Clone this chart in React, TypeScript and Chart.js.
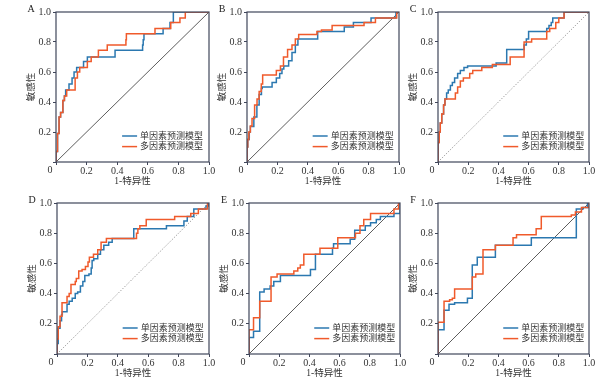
import React, { useEffect, useRef } from 'react';
import { Chart, registerables } from 'chart.js';

Chart.register(...registerables);

// ---------- data ----------
const seriesNames = ['单因素预测模型', '多因素预测模型'];
const xTitle = '1-特异性';
const yTitle = '敏感性';
const panelLetters = ['A', 'B', 'C', 'D', 'E', 'F'];
const chanceLine: [number, number][] = [[0, 0], [1, 1]];

// ROC step points: [1-specificity, sensitivity] after each rise
const rocASingle: [number, number][] = [[0,0],[0,0.07],[0.01,0.19],[0.02,0.30],[0.03,0.33],[0.045,0.41],[0.055,0.44],[0.063,0.48],[0.085,0.52],[0.105,0.56],[0.118,0.60],[0.135,0.63],[0.18,0.67],[0.205,0.70],[0.386,0.745],[0.566,0.78],[0.57,0.815],[0.575,0.855],[0.70,0.89],[0.745,0.93],[0.767,1.0],[1,1]];
const rocAMulti: [number, number][] = [[0,0],[0,0.07],[0.01,0.19],[0.02,0.30],[0.03,0.33],[0.045,0.41],[0.055,0.44],[0.07,0.48],[0.125,0.56],[0.14,0.60],[0.155,0.63],[0.205,0.67],[0.23,0.70],[0.277,0.745],[0.335,0.78],[0.457,0.815],[0.46,0.855],[0.647,0.89],[0.75,0.93],[0.81,0.96],[0.845,1.0],[1,1]];

const rocBSingle: [number, number][] = [[0,0],[0,0.1],[0.005,0.15],[0.015,0.2],[0.022,0.237],[0.045,0.30],[0.065,0.38],[0.08,0.45],[0.095,0.49],[0.10,0.50],[0.165,0.53],[0.193,0.56],[0.215,0.59],[0.23,0.62],[0.242,0.64],[0.274,0.675],[0.296,0.73],[0.318,0.78],[0.335,0.82],[0.465,0.87],[0.64,0.90],[0.70,0.93],[0.816,0.96],[0.98,1.0],[1,1]];
const rocBMulti: [number, number][] = [[0,0],[0,0.1],[0.005,0.15],[0.012,0.2],[0.022,0.24],[0.033,0.29],[0.05,0.38],[0.066,0.42],[0.08,0.47],[0.094,0.52],[0.103,0.58],[0.193,0.61],[0.22,0.64],[0.24,0.70],[0.267,0.75],[0.296,0.78],[0.318,0.82],[0.34,0.85],[0.46,0.87],[0.49,0.88],[0.56,0.91],[0.77,0.93],[0.845,0.96],[0.985,1.0],[1,1]];

const rocCSingle: [number, number][] = [[0,0],[0,0.13],[0.008,0.2],[0.015,0.26],[0.025,0.32],[0.037,0.38],[0.046,0.42],[0.057,0.46],[0.068,0.48],[0.082,0.51],[0.095,0.53],[0.11,0.56],[0.13,0.59],[0.148,0.61],[0.172,0.63],[0.196,0.64],[0.385,0.66],[0.455,0.75],[0.57,0.78],[0.585,0.82],[0.60,0.87],[0.72,0.89],[0.735,0.91],[0.75,0.93],[0.76,0.96],[0.835,1.0],[1,1]];
const rocCMulti: [number, number][] = [[0,0],[0,0.13],[0.008,0.2],[0.015,0.26],[0.025,0.32],[0.037,0.38],[0.046,0.42],[0.115,0.46],[0.13,0.50],[0.148,0.54],[0.168,0.56],[0.21,0.59],[0.23,0.61],[0.29,0.63],[0.36,0.65],[0.478,0.70],[0.57,0.80],[0.62,0.82],[0.72,0.87],[0.74,0.89],[0.78,0.93],[0.80,0.96],[0.835,1.0],[1,1]];

const rocDSingle: [number, number][] = [[0,0],[0,0.07],[0.008,0.17],[0.02,0.22],[0.03,0.26],[0.035,0.28],[0.066,0.33],[0.08,0.35],[0.10,0.37],[0.12,0.40],[0.136,0.41],[0.154,0.45],[0.17,0.48],[0.183,0.52],[0.21,0.53],[0.225,0.57],[0.231,0.62],[0.242,0.63],[0.268,0.66],[0.286,0.69],[0.308,0.72],[0.34,0.74],[0.363,0.765],[0.505,0.83],[0.72,0.85],[0.835,0.88],[0.857,0.91],[0.90,0.96],[0.98,0.98],[0.995,1.0],[1,1]];
const rocDMulti: [number, number][] = [[0,0],[0,0.1],[0.008,0.18],[0.02,0.25],[0.033,0.34],[0.066,0.38],[0.08,0.40],[0.092,0.46],[0.12,0.48],[0.127,0.50],[0.143,0.55],[0.165,0.56],[0.187,0.58],[0.204,0.61],[0.213,0.64],[0.24,0.66],[0.268,0.69],[0.29,0.74],[0.325,0.765],[0.523,0.80],[0.532,0.83],[0.545,0.85],[0.587,0.89],[0.774,0.91],[0.88,0.93],[0.93,0.96],[0.99,1.0],[1,1]];

const rocESingle: [number, number][] = [[0,0],[0,0.11],[0.03,0.15],[0.071,0.41],[0.10,0.43],[0.14,0.45],[0.164,0.48],[0.208,0.52],[0.407,0.56],[0.44,0.66],[0.553,0.70],[0.56,0.73],[0.67,0.76],[0.70,0.82],[0.77,0.85],[0.805,0.87],[0.843,0.89],[0.87,0.91],[0.96,0.93],[1,1.0]];
const rocEMulti: [number, number][] = [[0,0],[0,0.16],[0.03,0.24],[0.071,0.35],[0.146,0.51],[0.186,0.53],[0.297,0.55],[0.323,0.57],[0.34,0.59],[0.363,0.66],[0.47,0.70],[0.588,0.77],[0.705,0.80],[0.735,0.85],[0.76,0.89],[0.805,0.93],[0.96,0.96],[0.99,1.0],[1,1]];

const rocFSingle: [number, number][] = [[0,0],[0,0.16],[0.04,0.29],[0.073,0.33],[0.11,0.34],[0.195,0.37],[0.227,0.59],[0.26,0.64],[0.38,0.72],[0.618,0.77],[0.916,0.96],[0.96,0.97],[0.99,1.0],[1,1]];
const rocFMulti: [number, number][] = [[0,0],[0,0.21],[0.04,0.35],[0.077,0.36],[0.095,0.37],[0.11,0.43],[0.227,0.51],[0.25,0.53],[0.298,0.69],[0.38,0.72],[0.497,0.77],[0.52,0.79],[0.65,0.83],[0.684,0.91],[0.883,0.92],[0.91,0.94],[0.95,0.97],[1,1]];

// ---------- layout / style ----------
const BLUE = '#2b78b0';
const ORANGE = '#f05a2b';
const FRAME = '#40465a';
const TEXT = '#333333';
const FONT = "'Liberation Serif', 'Noto Sans CJK SC', serif";

const panels = [
  { letter: panelLetters[0], rect: [56, 12, 153, 150], single: rocASingle, multi: rocAMulti, dotted: false },
  { letter: panelLetters[1], rect: [247, 12, 152, 150], single: rocBSingle, multi: rocBMulti, dotted: false },
  { letter: panelLetters[2], rect: [438, 12, 151, 150], single: rocCSingle, multi: rocCMulti, dotted: true },
  { letter: panelLetters[3], rect: [57, 203, 152, 151], single: rocDSingle, multi: rocDMulti, dotted: true },
  { letter: panelLetters[4], rect: [249, 203, 151, 151], single: rocESingle, multi: rocEMulti, dotted: false },
  { letter: panelLetters[5], rect: [438, 203, 151, 151], single: rocFSingle, multi: rocFMulti, dotted: false },
];

const LEFT_SPACE = 45;
const TOP_SPACE = 12;
const RIGHT_SPACE = 10;
const BOTTOM_SPACE = 30;

const toXY = (arr: [number, number][]) => arr.map(([x, y]) => ({ x, y }));
const fmt = (v: any) => (Number(v) === 0 ? '' : Number(v).toFixed(1));

function Panel({ p }: { p: any }) {
  const ref = useRef<HTMLCanvasElement>(null);
  const [l, t, w, h] = p.rect;
  const W = LEFT_SPACE + w + RIGHT_SPACE;
  const H = TOP_SPACE + h + BOTTOM_SPACE;

  useEffect(() => {
    const deco = {
      id: 'deco',
      afterDatasetsDraw(chart: any) {
        const { ctx, chartArea: a } = chart;
        const cw = a.right - a.left;
        ctx.save();
        // frame
        ctx.strokeStyle = FRAME;
        ctx.lineWidth = 1.2;
        ctx.strokeRect(a.left, a.top, cw, a.bottom - a.top);
        // legend
        const colors = [BLUE, ORANGE];
        const x0 = a.left + 0.432 * cw;
        ctx.font = `9px ${FONT}`;
        ctx.textAlign = 'left';
        ctx.textBaseline = 'middle';
        for (let i = 0; i < 2; i++) {
          const y = a.bottom - 26 + i * 10.6;
          ctx.strokeStyle = colors[i];
          ctx.lineWidth = 1.5;
          ctx.beginPath();
          ctx.moveTo(x0, y);
          ctx.lineTo(x0 + 15, y);
          ctx.stroke();
          ctx.fillStyle = TEXT;
          ctx.fillText(seriesNames[i], x0 + 18, y + 0.5);
        }
        // panel letter
        ctx.font = `10px ${FONT}`;
        ctx.textAlign = 'center';
        ctx.fillStyle = '#222';
        ctx.fillText(p.letter, a.left - 25, a.top - 3);
        // shared origin label
        ctx.fillStyle = TEXT;
        ctx.fillText('0', a.left - 6, a.bottom + 8.5);
        ctx.restore();
      },
    };

    const chart = new Chart(ref.current as HTMLCanvasElement, {
      type: 'scatter',
      data: {
        datasets: [
          { label: seriesNames[1], data: toXY(p.multi), borderColor: ORANGE, backgroundColor: ORANGE, borderWidth: 1.5, showLine: true, stepped: 'before', pointRadius: 0 } as any,
          { label: seriesNames[0], data: toXY(p.single), borderColor: BLUE, backgroundColor: BLUE, borderWidth: 1.5, showLine: true, stepped: 'before', pointRadius: 0 } as any,
          { label: 'ref', data: toXY(chanceLine), borderColor: p.dotted ? '#8a8a8a' : '#333', borderWidth: p.dotted ? 0.9 : 0.8, borderDash: p.dotted ? [1.2, 1.6] : [], showLine: true, pointRadius: 0 } as any,
        ],
      },
      options: {
        animation: false,
        responsive: false,
        maintainAspectRatio: false,
        devicePixelRatio: 1,
        events: [],
        layout: { padding: { left: 0, top: TOP_SPACE, right: RIGHT_SPACE, bottom: 0 } },
        plugins: { legend: { display: false }, tooltip: { enabled: false } },
        scales: {
          x: {
            type: 'linear', min: 0, max: 1,
            border: { display: false },
            grid: { display: true, drawOnChartArea: false, drawTicks: true, tickLength: 3, tickColor: FRAME, tickWidth: 1 },
            ticks: { stepSize: 0.2, callback: fmt, padding: 0, maxRotation: 0, autoSkip: false, color: TEXT, font: { size: 10, family: FONT } },
            title: { display: true, text: xTitle, color: TEXT, font: { size: 9.5, family: FONT }, padding: { top: 0, bottom: 4.5 } },
            afterFit: (s: any) => { s.height = BOTTOM_SPACE; s.paddingLeft = 0; s.paddingRight = 0; },
          },
          y: {
            type: 'linear', min: 0, max: 1,
            border: { display: false },
            grid: { display: true, drawOnChartArea: false, drawTicks: true, tickLength: 3, tickColor: FRAME, tickWidth: 1 },
            ticks: { stepSize: 0.2, callback: fmt, padding: 2, autoSkip: false, color: TEXT, font: { size: 10, family: FONT } },
            title: { display: true, text: yTitle, color: TEXT, font: { size: 9.5, family: FONT }, padding: { top: 15, bottom: 0 } },
            afterFit: (s: any) => { s.width = LEFT_SPACE; s.paddingTop = 0; s.paddingBottom = 0; },
          },
        } as any,
      },
      plugins: [deco],
    });
    return () => chart.destroy();
  }, []);

  return (
    <canvas
      ref={ref}
      width={W}
      height={H}
      style={{ position: 'absolute', left: l - LEFT_SPACE, top: t - TOP_SPACE, width: W, height: H }}
    />
  );
}

export default function App() {
  return (
    <div style={{ position: 'absolute', left: 0, top: 0, width: 610, height: 391, background: '#fff' }}>
      {panels.map((p) => (
        <Panel key={p.letter} p={p} />
      ))}
    </div>
  );
}
